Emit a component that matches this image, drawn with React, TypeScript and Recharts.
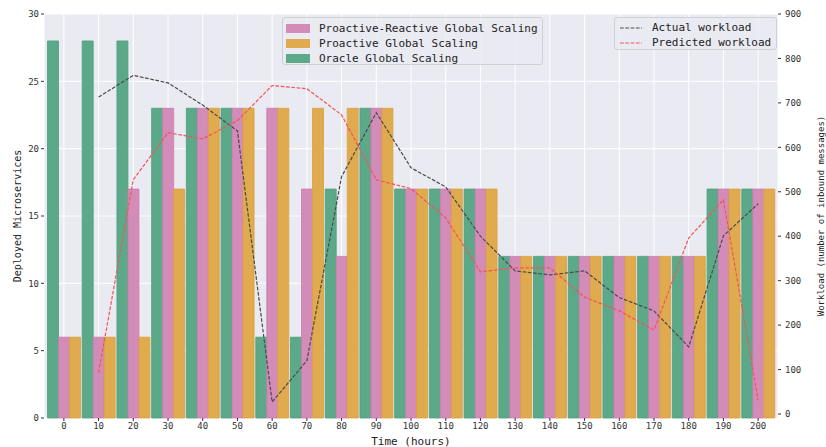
import { ComposedChart, Bar, Line, XAxis, YAxis, CartesianGrid } from 'recharts';

const times = [0, 10, 20, 30, 40, 50, 60, 70, 80, 90, 100, 110, 120, 130, 140, 150, 160, 170, 180, 190, 200];
const oracle = [28, 28, 28, 23, 23, 23, 6, 6, 17, 23, 17, 17, 17, 12, 12, 12, 12, 12, 12, 17, 17];
const proactiveReactive = [6, 6, 17, 23, 23, 23, 23, 17, 12, 23, 17, 17, 17, 12, 12, 12, 12, 12, 12, 17, 17];
const proactive = [6, 6, 6, 17, 23, 23, 23, 23, 23, 23, 17, 17, 17, 12, 12, 12, 12, 12, 12, 17, 17];
const actualWorkload = [null, 713, 762, 745, 695, 637, 27, 120, 534, 678, 554, 511, 400, 322, 313, 322, 262, 232, 151, 401, 473];
const predictedWorkload = [null, 93, 527, 633, 619, 660, 739, 732, 673, 527, 507, 441, 320, 329, 329, 263, 232, 189, 396, 482, 31];

const leftTicks = [0, 5, 10, 15, 20, 25, 30];
const rightTicks = [0, 100, 200, 300, 400, 500, 600, 700, 800, 900];

const data = times.map((t, i) => ({
  time: t,
  oracle: oracle[i],
  proactiveReactive: proactiveReactive[i],
  proactive: proactive[i],
  actual: actualWorkload[i],
  predicted: predictedWorkload[i],
}));

const FONT = '"DejaVu Sans Mono", monospace';
const GREEN = '#5ca98a';
const PINK = '#d38bb8';
const ORANGE = '#e0aa4e';
const BLACK_LINE = '#4a4a4a';
const RED_LINE = '#f45454';

const tickStyle = { fontSize: 9, fill: '#333', fontFamily: FONT };

const boxStyle: React.CSSProperties = {
  position: 'absolute',
  background: 'rgba(234,234,242,0.85)',
  border: '1px solid #cfcfd6',
  borderRadius: 3,
  fontFamily: FONT,
  fontSize: 11,
  color: '#222',
  boxSizing: 'border-box',
};

const barItems = [
  { label: 'Proactive-Reactive Global Scaling', color: PINK },
  { label: 'Proactive Global Scaling', color: ORANGE },
  { label: 'Oracle Global Scaling', color: GREEN },
];

const lineItems = [
  { label: 'Actual workload', color: BLACK_LINE },
  { label: 'Predicted workload', color: RED_LINE },
];

export default function App() {
  return (
    <div style={{ position: 'absolute', top: 0, left: 0, width: 826, height: 447, background: '#fff' }}>
      <ComposedChart
        width={826}
        height={447}
        data={data}
        margin={{ top: 14, right: 0, bottom: 0, left: 0 }}
        barCategoryGap={1}
        barGap={0}
      >
        <CartesianGrid yAxisId="left" fill="#eaeaf2" stroke="#fff" strokeWidth={1} ticks={leftTicks} />
        <XAxis
          dataKey="time"
          type="category"
          interval={0}
          padding={{ left: 2.5, right: 2.5 }}
          height={29}
          axisLine={false}
          tickSize={3}
          tickLine={{ stroke: '#333' }}
          tick={tickStyle}
          label={{ value: 'Time (hours)', position: 'insideBottom', offset: 2, style: { fontSize: 11, fill: '#222', fontFamily: FONT } }}
        />
        <YAxis
          yAxisId="left"
          orientation="left"
          width={44}
          domain={[0, 30]}
          ticks={leftTicks}
          axisLine={false}
          tickSize={3}
          tickLine={{ stroke: '#333' }}
          tick={tickStyle}
          label={{
            value: 'Deployed Microservices',
            angle: -90,
            position: 'insideLeft',
            offset: 17,
            style: { fontSize: 10, fill: '#222', fontFamily: FONT, textAnchor: 'middle' },
          }}
        />
        <YAxis
          yAxisId="right"
          orientation="right"
          width={48}
          domain={[-9, 900]}
          ticks={rightTicks}
          axisLine={false}
          tickSize={3}
          tickMargin={4}
          tickLine={{ stroke: '#333' }}
          tick={tickStyle}
          label={{
            value: 'Workload (number of inbound messages)',
            angle: -90,
            position: 'insideRight',
            offset: 5,
            style: { fontSize: 9, fill: '#222', fontFamily: FONT, textAnchor: 'middle' },
          }}
        />
        <Bar yAxisId="left" dataKey="oracle" fill={GREEN} stroke="#4c9d7c" strokeWidth={0.8} isAnimationActive={false} />
        <Bar yAxisId="left" dataKey="proactiveReactive" fill={PINK} stroke="#c97bb0" strokeWidth={0.8} isAnimationActive={false} />
        <Bar yAxisId="left" dataKey="proactive" fill={ORANGE} stroke="#dc9f3d" strokeWidth={0.8} isAnimationActive={false} />
        <Line
          yAxisId="right"
          type="linear"
          dataKey="actual"
          stroke={BLACK_LINE}
          strokeWidth={1.2}
          strokeDasharray="3.7 1.6"
          dot={false}
          activeDot={false}
          isAnimationActive={false}
        />
        <Line
          yAxisId="right"
          type="linear"
          dataKey="predicted"
          stroke={RED_LINE}
          strokeWidth={1.2}
          strokeDasharray="3.7 1.6"
          dot={false}
          activeDot={false}
          isAnimationActive={false}
        />
      </ComposedChart>

      <div style={{ ...boxStyle, left: 282, top: 17, width: 261, height: 48, padding: '3px 0 0 3px' }}>
        {barItems.map((it) => (
          <div key={it.label} style={{ display: 'flex', alignItems: 'center', height: 15 }}>
            <span style={{ display: 'inline-block', width: 24, height: 9, background: it.color, marginRight: 9 }} />
            <span>{it.label}</span>
          </div>
        ))}
      </div>

      <div style={{ ...boxStyle, left: 614, top: 17, width: 163, height: 33, padding: '2px 0 0 5px' }}>
        {lineItems.map((it) => (
          <div key={it.label} style={{ display: 'flex', alignItems: 'center', height: 15 }}>
            <svg width={22} height={4} style={{ marginRight: 10 }}>
              <line x1={0} y1={2} x2={22} y2={2} stroke={it.color} strokeWidth={1.2} strokeDasharray="3.7 1.6" />
            </svg>
            <span>{it.label}</span>
          </div>
        ))}
      </div>
    </div>
  );
}
